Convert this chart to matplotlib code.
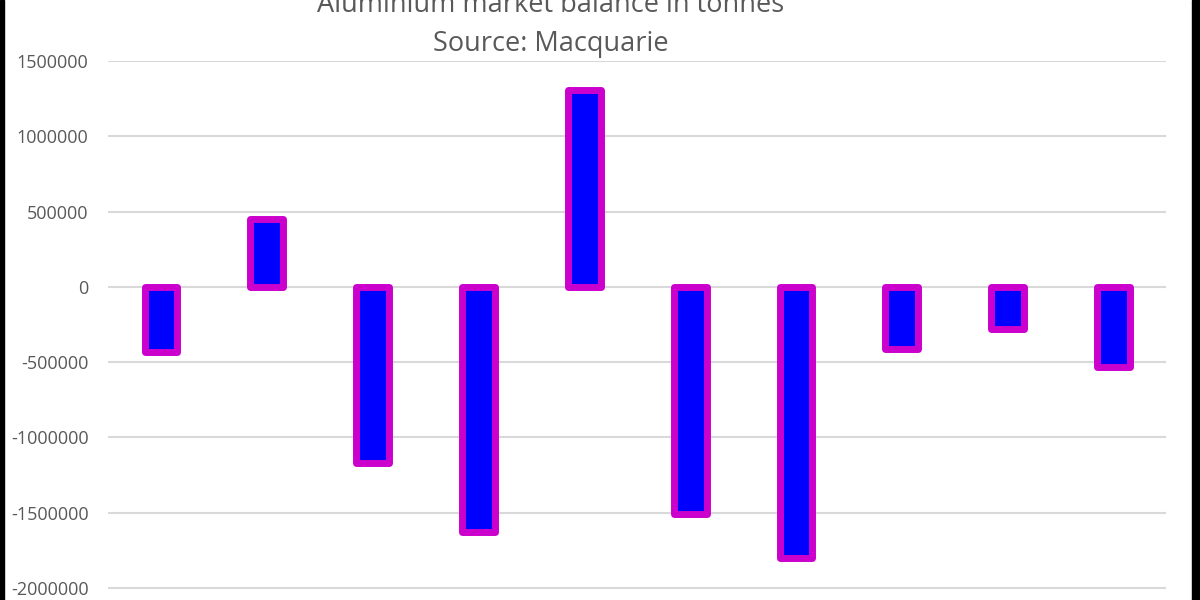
import matplotlib.pyplot as plt
from matplotlib.patches import Rectangle

plt.rcParams['font.family'] = ['Open Sans', 'DejaVu Sans']

title_line1 = "Aluminium market balance in tonnes"
title_line2 = "Source: Macquarie"
categories = ['1', '2', '3', '4', '5', '6', '7', '8', '9', '10']
balance = [-430000, 450000, -1170000, -1630000, 1310000,
           -1510000, -1800000, -410000, -280000, -530000]
yticks = [-2000000, -1500000, -1000000, -500000, 0, 500000, 1000000, 1500000]

fig = plt.figure(figsize=(12, 6), dpi=100)
ax = fig.add_axes([0.09, 0.0, 0.882, 0.898])

x = range(len(categories))
ax.bar(x, balance, width=0.31, color='#0000FF', edgecolor='#CC00CC',
       linewidth=5, joinstyle='round', zorder=3)

ax.set_xlim(-0.5, len(categories) - 0.5)
ax.set_ylim(-2080000, 1500000)
ax.set_yticks(yticks)
ax.set_yticklabels([str(v) for v in yticks])
ax.tick_params(axis='y', length=0, pad=14, labelsize=13, labelcolor='#595959')
ax.set_xticks([])
ax.grid(axis='y', color='#d9d9d9', linewidth=1.5, zorder=0)
for s in ax.spines.values():
    s.set_visible(False)

# title sits partly above the top edge, as in the cropped screenshot
fig.text(0.459, 0.992, title_line1, ha='center', va='center', fontsize=19.5,
         color='#595959')
fig.text(0.459, 0.926, title_line2, ha='center', va='center', fontsize=19.5,
         color='#595959')

# dark frame edges at left and right of the screenshot
fig.patches.append(Rectangle((0, 0), 0.0035, 1, transform=fig.transFigure,
                             color='black', zorder=10))
fig.patches.append(Rectangle((0.9935, 0), 0.0065, 1, transform=fig.transFigure,
                             color='black', zorder=10))

fig.savefig('out.png', dpi=100)
